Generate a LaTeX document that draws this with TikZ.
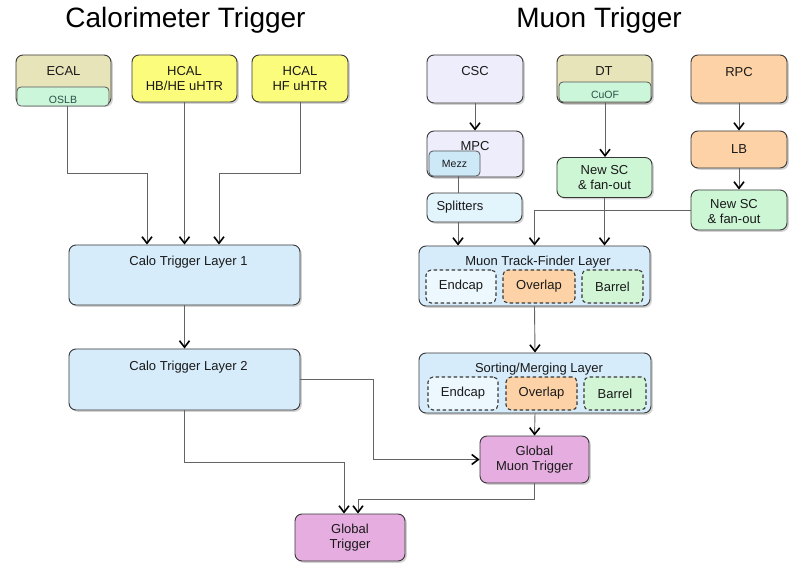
\documentclass[tikz,border=0pt]{standalone}
\usepackage{fontspec}
\setmainfont{Liberation Sans}
\usetikzlibrary{arrows.meta,shadows}
\definecolor{cTan}{RGB}{232,228,186}
\definecolor{cMint}{RGB}{204,246,218}
\definecolor{cYel}{RGB}{252,252,124}
\definecolor{cLav}{RGB}{238,237,251}
\definecolor{cMezz}{RGB}{205,232,247}
\definecolor{cSplit}{RGB}{226,244,252}
\definecolor{cOrg}{RGB}{252,210,166}
\definecolor{cGrn}{RGB}{205,246,213}
\definecolor{cLay}{RGB}{214,236,251}
\definecolor{cEnd}{RGB}{236,248,253}
\definecolor{cBar}{RGB}{210,245,214}
\definecolor{cPink}{RGB}{230,174,224}
\definecolor{cEdge}{RGB}{55,55,55}
\definecolor{cLine}{RGB}{100,100,100}
\definecolor{cTxt}{RGB}{25,25,25}
\definecolor{cSubTxt}{RGB}{40,80,70}
\begin{document}
\begin{tikzpicture}[x=1pt,y=-1pt,
 box/.style={draw=cEdge, line width=0.9pt, rounded corners=7pt,
   drop shadow={shadow xshift=1.8pt,shadow yshift=-1.8pt,opacity=0.35},
   inner sep=0pt, text=cTxt, align=center, font=\fontsize{13}{15.5}\selectfont},
 subbox/.style={draw=cEdge!85, line width=0.8pt, rounded corners=4pt, inner sep=0pt,
   text=cSubTxt, font=\fontsize{10.5}{12}\selectfont},
 dbox/.style={draw=cEdge, dash pattern=on 3.5pt off 2.5pt, line width=1.1pt, rounded corners=5pt,
   inner sep=0pt, text=cTxt, font=\fontsize{13}{15}\selectfont},
 ttl/.style={font=\fontsize{28}{32}\selectfont, text=black, inner sep=0pt, anchor=base},
 txt/.style={font=\fontsize{13}{15}\selectfont, text=cTxt, inner sep=0pt, align=center},
 stxt/.style={font=\fontsize{10.5}{12}\selectfont, text=cSubTxt, inner sep=0pt},
 ln/.style={draw=cLine, line width=0.9pt},
 arr/.style={ln, -{Straight Barb[length=6.5pt,width=10pt,line width=1.6pt,color=black]}},
]
\useasboundingbox[fill=white] (0,0) rectangle (806,569);

% titles
\node[ttl] (tcalo) at (185.5,28) {Calorimeter Trigger};
\node[ttl] (tmuon) at (599,28) {Muon Trigger};

% calorimeter side
\node[box, fill=cTan, minimum width=95pt, minimum height=50pt] (ecal) at (63.5,80) {};
\node[txt] (ecalt) at (63.5,71) {ECAL};
\node[subbox, fill=cMint, minimum width=92pt, minimum height=19pt] (oslb) at (63,96.5) {};
\node[stxt] (oslbt) at (63,99.5) {OSLB};
\node[box, fill=cYel, minimum width=105pt, minimum height=47pt] (hbhe) at (184.5,78.5) {HCAL\\HB/HE uHTR};
\node[box, fill=cYel, minimum width=96pt, minimum height=47pt] (hf) at (300,78.5) {HCAL\\HF uHTR};
\node[box, fill=cLay, minimum width=231pt, minimum height=60pt] (l1) at (184.5,275) {};
\node[txt] (l1t) at (188.5,262) {Calo Trigger Layer 1};
\node[box, fill=cLay, minimum width=231pt, minimum height=61pt] (l2) at (184.5,379.5) {};
\node[txt] (l2t) at (188.5,367) {Calo Trigger Layer 2};

% global
\node[box, fill=cPink, minimum width=109pt, minimum height=47pt] (gmt) at (534.5,459.5) {Global\\Muon Trigger};
\node[box, fill=cPink, minimum width=110pt, minimum height=47pt] (gt) at (350,537.5) {Global\\Trigger};

% muon side
\node[box, fill=cLav, minimum width=96pt, minimum height=48pt] (csc) at (475,79) {};
\node[txt] (csct) at (475,71) {CSC};
\node[box, fill=cTan, minimum width=95pt, minimum height=48pt] (dt) at (604.5,79) {};
\node[txt] (dtt) at (604,71) {DT};
\node[subbox, fill=cMint, minimum width=92pt, minimum height=20pt] (cuof) at (605,92) {};
\node[stxt] (cuoft) at (605,95) {CuOF};
\node[box, fill=cOrg, minimum width=96pt, minimum height=48pt] (rpc) at (739,79) {};
\node[txt] (rpct) at (739,72) {RPC};
\node[box, fill=cLav, minimum width=96pt, minimum height=46pt] (mpc) at (475,154) {};
\node[txt] (mpct) at (475,146) {MPC};
\node[subbox, fill=cMezz, minimum width=51pt, minimum height=25pt, text=cTxt] (mezz) at (454.5,163.5) {Mezz};
\node[box, fill=cSplit, minimum width=95pt, minimum height=29pt] (split) at (474.5,207.5) {};
\node[txt] (splitt) at (460,207.5) {Splitters};
\node[box, fill=cGrn, minimum width=95pt, minimum height=40pt] (nsc1) at (604.5,177.5) {New SC\\\& fan-out};
\node[box, fill=cOrg, minimum width=96pt, minimum height=37pt] (lb) at (739,149.5) {LB};
\node[box, fill=cGrn, minimum width=96pt, minimum height=40pt] (nsc2) at (739,210) {};
\node[txt] (nsc2t) at (734,212) {New SC\\\& fan-out};

\node[box, fill=cLay, minimum width=231pt, minimum height=60pt] (mtf) at (534.5,276) {};
\node[txt] (mtft) at (538,262) {Muon Track-Finder Layer};
\node[dbox, fill=cEnd, minimum width=70pt, minimum height=33pt] (e1) at (461,286.5) {Endcap};
\node[dbox, fill=cOrg, minimum width=72pt, minimum height=33pt] (o1) at (539,286.5) {Overlap};
\node[dbox, fill=cBar, minimum width=61pt, minimum height=33pt] (b1) at (612.5,286.5) {Barrel};

\node[box, fill=cLay, minimum width=232pt, minimum height=60pt] (sm) at (535,383) {};
\node[txt] (smt) at (539,369) {Sorting/Merging Layer};
\node[dbox, fill=cEnd, minimum width=70pt, minimum height=33pt] (e2) at (463,393.5) {Endcap};
\node[dbox, fill=cOrg, minimum width=71pt, minimum height=33pt] (o2) at (541.5,393.5) {Overlap};
\node[dbox, fill=cBar, minimum width=62pt, minimum height=33pt] (b2) at (615,393.5) {Barrel};

% bend points
\coordinate (c1) at (147,173);
\coordinate (c3) at (219,173);
\coordinate (c5) at (373,459.5);
\coordinate (c6) at (344,462);
\coordinate (c7) at (358,499);
\coordinate (m1) at (458,0);

% connectors calorimeter
\draw[arr] ([xshift=4pt]oslb.south) |- (c1) -- (c1 |- l1.north);
\draw[arr] (hbhe.south) -- (hbhe.south |- l1.north);
\draw[arr] (hf.south) |- (c3) -- (c3 |- l1.north);
\draw[arr] (l1.south) -- (l2.north);
\draw[arr] (l2.east) -| (c5) -- (gmt.west);
\draw[arr] (l2.south) |- (c6) -- (c6 |- gt.north);
\draw[arr] (gmt.south) |- (c7) -- (c7 |- gt.north);

% connectors muon
\draw[arr] (csc.south) -- (mpc.north);
\draw[ln] (m1 |- mezz.south) -- (m1 |- split.north);
\draw[arr] (m1 |- split.south) -- (m1 |- mtf.north);
\draw[arr] (cuof.south) -- (cuof.south |- nsc1.north);
\draw[arr] (nsc1.south) -- (nsc1.south |- mtf.north);
\draw[arr] (rpc.south) -- (lb.north);
\draw[arr] (lb.south) -- (nsc2.north);
\draw[arr] (nsc2.west) -| (mtf.north);
\draw[arr] (mtf.south) -- (sm.north);
\draw[arr] (sm.south) -- (gmt.north);
\end{tikzpicture}
\end{document}
